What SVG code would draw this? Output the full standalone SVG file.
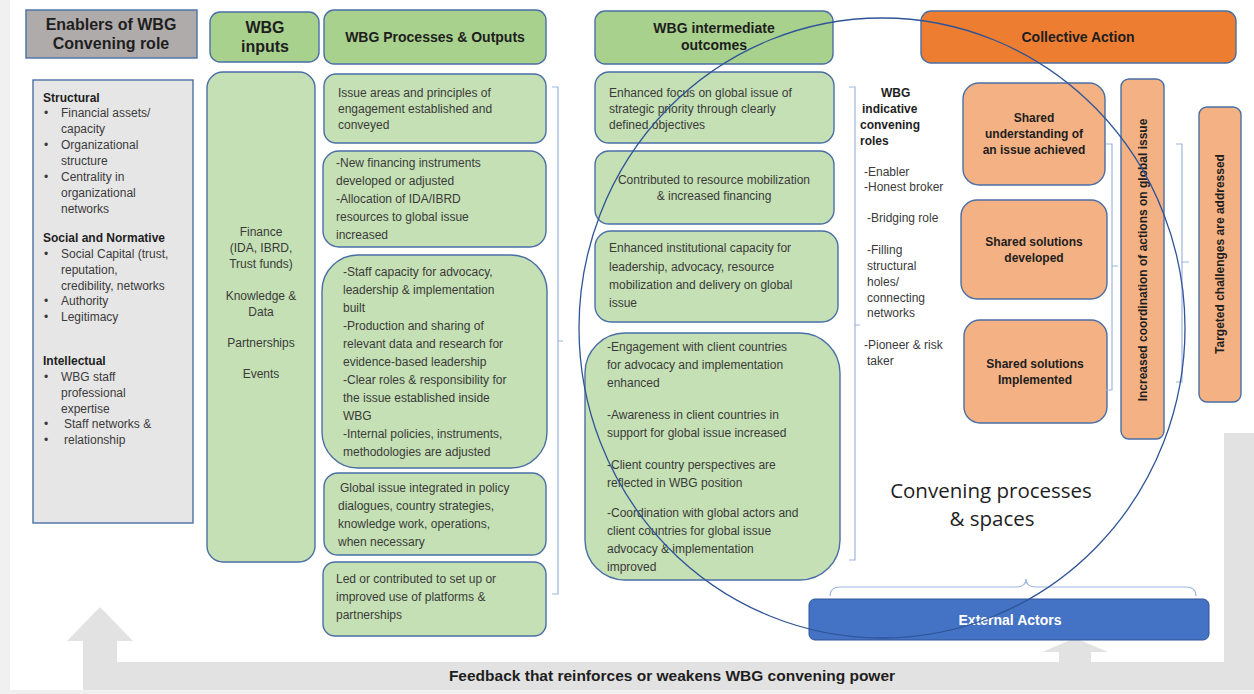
<svg xmlns="http://www.w3.org/2000/svg" width="1254" height="694" viewBox="0 0 1254 694">
<style>
.t{font-family:"Liberation Sans",Arial,sans-serif;font-size:12px;fill:#3a3a3a}
.b{font-family:"Liberation Sans",Arial,sans-serif;font-weight:bold;fill:#1e1e1e}
.hd{font-size:14px}
.h16{font-size:16px}
.s12{font-size:12px}
.c{text-anchor:middle}
.g{fill:#c5e0b4;stroke:#4a6fa5;stroke-width:1.4}
.gh{fill:#a9d18e;stroke:#4a6fa5;stroke-width:1.4}
.o{fill:#f4b183;stroke:#4a6fa5;stroke-width:1.4}
.br{fill:none;stroke:#9db5e0;stroke-width:1.2}
</style>
<rect x="0" y="0" width="1254" height="694" fill="#ffffff"/>
<rect x="0" y="0" width="10" height="694" fill="#f0f0f0"/>
<rect x="0" y="690" width="1254" height="4" fill="#f0f0f0"/>

<g id="feedback-arrow">
<polygon points="1254,433 1254,690 83,690 83,641 67,641 100,607 133,641 117,641 117,662 1224,662 1224,433" fill="#e2e2e2"/>
<polygon points="1059,662 1059,652 1042,652 1075,638 1108,652 1091,652 1091,662" fill="#e2e2e2"/>
<text class="b c" x="672" y="681" style="font-size:15.5px">Feedback that reinforces or weakens WBG convening power</text>
</g>

<g id="enablers-header">
<rect x="26" y="10" width="171" height="48" fill="#afabab" stroke="#4a6fa5" stroke-width="1.4"/>
<text class="b h16 c" x="111" y="30">Enablers of WBG</text>
<text class="b h16 c" x="111" y="49">Convening role</text>
</g>
<g id="enablers">
<rect x="33" y="80" width="160" height="443" fill="#e7e6e6" stroke="#4a6fa5" stroke-width="1.4"/>
<text class="b s12" x="43" y="102">Structural</text>
<g class="t">
<text x="44" y="117">•</text><text x="61" y="117">Financial assets/</text>
<text x="61" y="133">capacity</text>
<text x="44" y="149">•</text><text x="61" y="149">Organizational</text>
<text x="61" y="165">structure</text>
<text x="44" y="181">•</text><text x="61" y="181">Centrality in</text>
<text x="61" y="197">organizational</text>
<text x="61" y="213">networks</text>
</g>
<text class="b s12" x="43" y="242">Social and Normative</text>
<g class="t">
<text x="44" y="258">•</text><text x="61" y="258">Social Capital (trust,</text>
<text x="61" y="274">reputation,</text>
<text x="61" y="290">credibility, networks</text>
<text x="44" y="305">•</text><text x="61" y="305">Authority</text>
<text x="44" y="321">•</text><text x="61" y="321">Legitimacy</text>
</g>
<text class="b s12" x="43" y="365">Intellectual</text>
<g class="t">
<text x="44" y="381">•</text><text x="61" y="381">WBG staff</text>
<text x="61" y="397">professional</text>
<text x="61" y="413">expertise</text>
<text x="44" y="428">•</text><text x="64" y="428">Staff networks &amp;</text>
<text x="44" y="444">•</text><text x="64" y="444">relationship</text>
</g>
</g>

<g id="inputs-header">
<rect class="gh" x="210" y="12" width="109" height="50" rx="10"/>
<text class="b h16 c" x="265" y="33">WBG</text>
<text class="b h16 c" x="265" y="52">inputs</text>
</g>
<g id="inputs">
<rect class="g" x="207" y="72" width="108" height="490" rx="16"/>
<g class="t c">
<text x="261" y="236">Finance</text>
<text x="261" y="252">(IDA, IBRD,</text>
<text x="261" y="268">Trust funds)</text>
<text x="261" y="300">Knowledge &amp;</text>
<text x="261" y="316">Data</text>
<text x="261" y="347">Partnerships</text>
<text x="261" y="378">Events</text>
</g>
</g>

<g id="processes-header">
<rect class="gh" x="324" y="10" width="222" height="54" rx="10"/>
<text class="b hd c" x="435" y="42">WBG Processes &amp; Outputs</text>
</g>
<g id="proc-1">
<rect class="g" x="324" y="74" width="222" height="69" rx="12"/>
<g class="t"><text x="338" y="97">Issue areas  and principles of</text><text x="338" y="113">engagement established  and</text><text x="338" y="129">conveyed</text></g>
</g>
<g id="proc-2">
<rect class="g" x="323" y="151" width="223" height="96" rx="16"/>
<g class="t"><text x="336" y="167">-New  financing instruments</text><text x="336" y="185">developed  or adjusted</text><text x="336" y="203">-Allocation of IDA/IBRD</text><text x="336" y="221">resources to global  issue</text><text x="336" y="239">increased</text></g>
</g>
<g id="proc-3">
<rect class="g" x="322" y="255" width="225" height="213" rx="36"/>
<g class="t"><text x="343" y="276">-Staff capacity for advocacy,</text><text x="343" y="294">leadership &amp; implementation</text><text x="343" y="312">built</text><text x="343" y="330">-Production and sharing of</text><text x="343" y="348">relevant  data and research for</text><text x="343" y="366">evidence-based leadership</text><text x="343" y="384">-Clear roles &amp; responsibility for</text><text x="343" y="402">the issue established  inside</text><text x="343" y="420">WBG</text><text x="343" y="438">-Internal policies, instruments,</text><text x="343" y="456">methodologies  are adjusted</text></g>
</g>
<g id="proc-4">
<rect class="g" x="324" y="473" width="222" height="82" rx="14"/>
<g class="t"><text x="340" y="492">Global  issue integrated in policy</text><text x="338" y="510">dialogues, country strategies,</text><text x="338" y="528">knowledge  work, operations,</text><text x="338" y="546">when  necessary</text></g>
</g>
<g id="proc-5">
<rect class="g" x="323" y="562" width="223" height="74" rx="12"/>
<g class="t"><text x="336" y="583">Led or contributed to set up or</text><text x="336" y="601">improved  use of platforms &amp;</text><text x="336" y="619">partnerships</text></g>
</g>

<g id="outcomes-header">
<rect class="gh" x="595" y="11" width="238" height="53" rx="10"/>
<text class="b hd c" x="714" y="33">WBG intermediate</text>
<text class="b hd c" x="714" y="50">outcomes</text>
</g>
<g id="out-1">
<rect class="g" x="595" y="72" width="239" height="71" rx="14"/>
<g class="t"><text x="609" y="97">Enhanced focus on global issue of</text><text x="609" y="113">strategic priority through clearly</text><text x="609" y="129">defined objectives</text></g>
</g>
<g id="out-2">
<rect class="g" x="595" y="151" width="239" height="73" rx="14"/>
<g class="t c"><text x="714" y="184">Contributed to resource mobilization</text><text x="714" y="200">&amp; increased financing</text></g>
</g>
<g id="out-3">
<rect class="g" x="595" y="231" width="243" height="91" rx="16"/>
<g class="t"><text x="609" y="252">Enhanced institutional capacity for</text><text x="609" y="271">leadership, advocacy, resource</text><text x="609" y="289">mobilization and delivery on global</text><text x="609" y="307">issue</text></g>
</g>
<g id="out-4">
<rect class="g" x="585" y="333" width="255" height="247" rx="40"/>
<g class="t"><text x="607" y="351">-Engagement with client countries</text><text x="607" y="369">for advocacy and implementation</text><text x="607" y="387">enhanced</text><text x="607" y="419">-Awareness in client countries in</text><text x="607" y="437">support for global issue increased</text><text x="607" y="469">-Client country perspectives are</text><text x="607" y="487">reflected in WBG position</text><text x="607" y="517">-Coordination with global actors and</text><text x="607" y="535">client countries for global issue</text><text x="607" y="553">advocacy &amp; implementation</text><text x="607" y="571">improved</text></g>
</g>

<g id="roles">
<text class="b s12" x="881" y="97">WBG</text>
<text class="b s12" x="862" y="113">indicative</text>
<text class="b s12" x="860" y="129">convening</text>
<text class="b s12" x="860" y="145">roles</text>
<g class="t">
<text x="864" y="176">-Enabler</text>
<text x="864" y="191">-Honest broker</text>
<text x="867" y="222">-Bridging role</text>
<text x="867" y="254">-Filling</text>
<text x="867" y="270">structural</text>
<text x="867" y="286">holes/</text>
<text x="867" y="302">connecting</text>
<text x="867" y="317">networks</text>
<text x="864" y="349">-Pioneer &amp; risk</text>
<text x="867" y="365">taker</text>
</g>
</g>

<g id="collective-header">
<rect x="921" y="11" width="315" height="52" rx="10" fill="#ed7d31" stroke="#4a6fa5" stroke-width="1.4"/>
<text class="b hd c" x="1078" y="42">Collective Action</text>
</g>
<g id="shared-understanding">
<rect class="o" x="963" y="83" width="142" height="102" rx="16"/>
<g class="b s12 c"><text x="1034" y="122">Shared</text><text x="1034" y="138">understanding of</text><text x="1034" y="154">an issue achieved</text></g>
</g>
<g id="shared-developed">
<rect class="o" x="961" y="200" width="146" height="99" rx="16"/>
<g class="b s12 c"><text x="1034" y="246">Shared solutions</text><text x="1034" y="262">developed</text></g>
</g>
<g id="shared-implemented">
<rect class="o" x="964" y="320" width="143" height="103" rx="16"/>
<g class="b s12 c"><text x="1035" y="368">Shared solutions</text><text x="1035" y="384">Implemented</text></g>
</g>
<g id="increased-coordination">
<rect class="o" x="1121" y="79" width="43" height="360" rx="8"/>
<text class="b s12 c" transform="translate(1147,260) rotate(-90)">Increased coordination of actions on global issue</text>
</g>
<g id="targeted-challenges">
<rect class="o" x="1199" y="107" width="42" height="295" rx="8"/>
<text class="b s12 c" transform="translate(1224,254) rotate(-90)">Targeted challenges  are addressed</text>
</g>

<g id="external-actors">
<rect x="809" y="599" width="400" height="41" rx="6" fill="#4472c4" stroke="#2f5597" stroke-width="1"/>
<text class="b hd c" x="1010" y="625" style="fill:#ffffff">External Actors</text>
</g>

<g id="connectors">
<path class="br" d="M552,87 H558 V594 H552 M558,341 H563"/>
<path class="br" d="M849,87 H855 V560 H849 M855,325 H860"/>
<path class="br" d="M1106,144 H1112 V390 H1106 M1112,266 H1118"/>
<path class="br" d="M1176,144 H1182 V382 H1176 M1182,262 H1189"/>
<path class="br" d="M830,596 Q830,587 840,587 H1016 Q1026,587 1026,579 Q1026,587 1036,587 H1186 Q1196,587 1196,596"/>
</g>

<g id="convening-space">
<ellipse cx="882" cy="328" rx="303" ry="310" fill="none" stroke="#2f5597" stroke-width="1.3"/>
<text x="991" y="498" text-anchor="middle" style="font-family:'Open Sans','Liberation Sans',sans-serif;font-size:20.5px;fill:#1e1e1e">Convening processes</text>
<text x="992" y="526" text-anchor="middle" style="font-family:'Open Sans','Liberation Sans',sans-serif;font-size:20.5px;fill:#1e1e1e">&amp; spaces</text>
</g>
</svg>
